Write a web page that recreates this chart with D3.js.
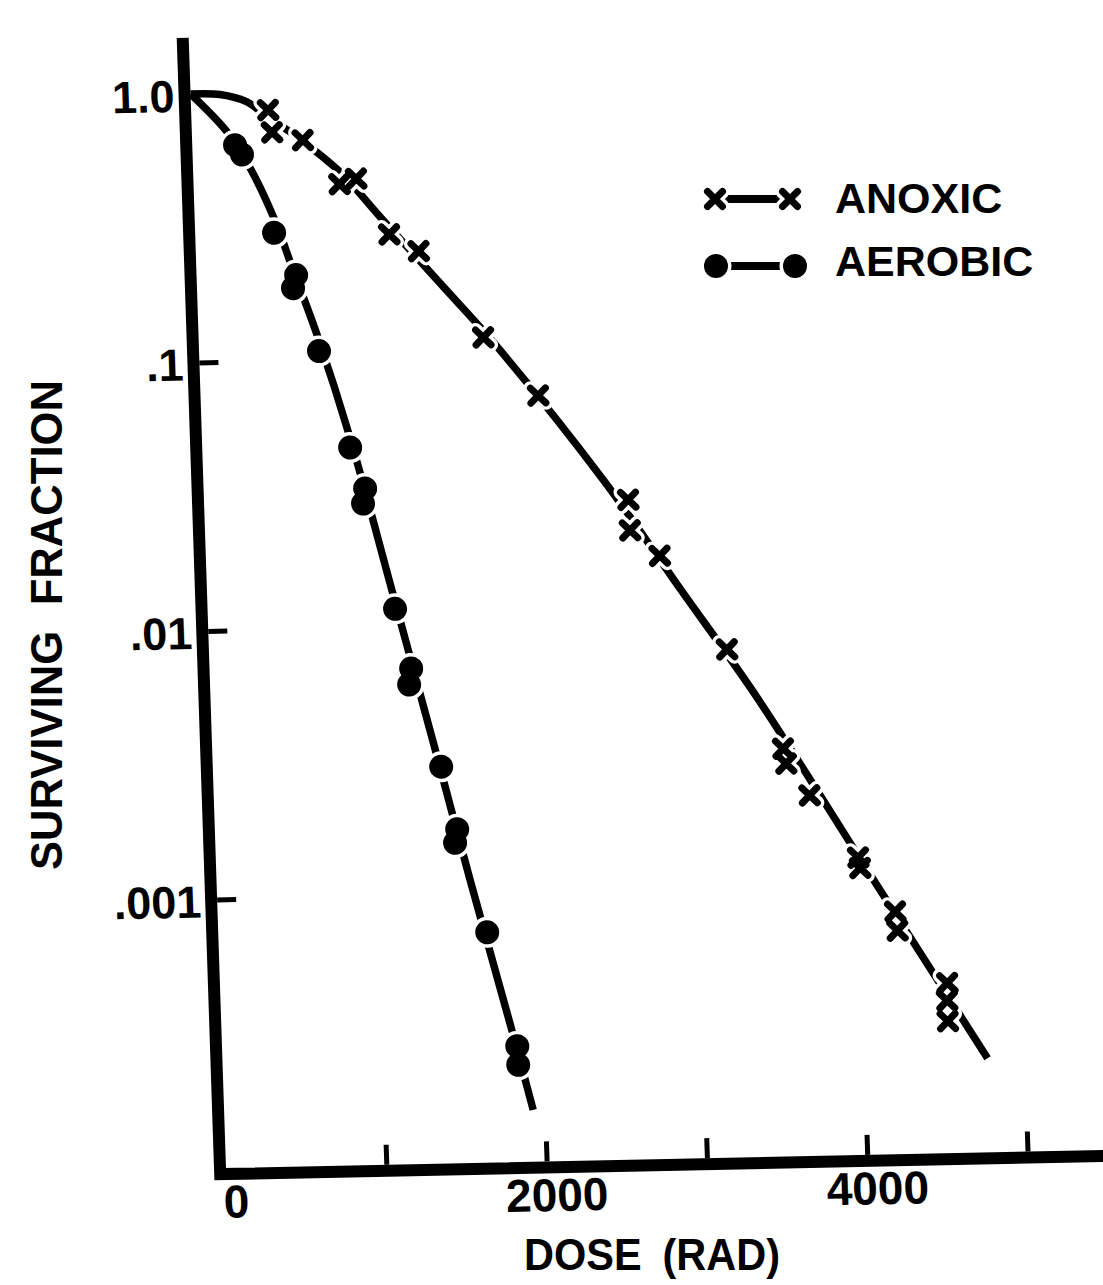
<!DOCTYPE html>
<html>
<head>
<meta charset="utf-8">
<script src="https://cdn.jsdelivr.net/npm/d3@7"></script>
<style>
  html, body { margin: 0; padding: 0; background: #fff; }
  svg { display: block; }
  text { font-family: "Liberation Sans", Arial, sans-serif; font-weight: bold; fill: #000; }
</style>
</head>
<body>
<svg id="chart" width="1103" height="1285"></svg>
<script>
// Cell survival after irradiation: measured points
const anoxicDose = [480, 500, 690, 910, 1015, 1210, 1390, 1775, 2105, 2645, 2650, 2830, 3230, 3560, 3575, 3715, 4005, 4015, 4225, 4235, 4535, 4530, 4530];
const anoxicSurvival = [0.86, 0.71, 0.66, 0.45, 0.47, 0.29, 0.25, 0.118, 0.071, 0.0286, 0.022, 0.0176, 0.0078, 0.0033, 0.0029, 0.0022, 0.00128, 0.00117, 0.0008, 0.00068, 0.00043, 0.00037, 0.00031];

const aerobicDose = [267, 308, 492, 621, 599, 748, 922, 1007, 991, 1169, 1257, 1241, 1424, 1511, 1495, 1677, 1841, 1843];
const aerobicSurvival = [0.64, 0.59, 0.30, 0.208, 0.186, 0.108, 0.047, 0.033, 0.029, 0.0117, 0.0070, 0.0061, 0.0030, 0.00175, 0.00156, 0.00072, 0.00027, 0.00023];

// Survival curves drawn through each set
const anoxicCurveDose = [0, 184, 350, 460, 655, 916, 1157, 1517, 1836, 2493, 2951, 3409, 4078, 4770];
const anoxicCurveSurvival = [1, 0.99, 0.925, 0.824, 0.679, 0.499, 0.337, 0.189, 0.113, 0.0341, 0.0132, 0.00512, 0.0011, 0.000224];
const aerobicCurveDose = [0, 220, 356, 501, 597, 745, 924, 1160, 1401, 1581, 1818, 1927];
const aerobicCurveSurvival = [1, 0.718, 0.525, 0.332, 0.223, 0.121, 0.051, 0.0132, 0.00327, 0.00113, 0.000297, 0.000156];

// Axes
const xTickValues = [1000, 2000, 3000, 4000, 5000];
const xLabelValues = [0, 2000, 4000];
const xLabels = ["0", "2000", "4000"];
const yTickValues = [0.1, 0.01, 0.001];
const yLabelValues = [1, 0.1, 0.01, 0.001];
const yLabels = ["1.0", ".1", ".01", ".001"];
const seriesNames = ["ANOXIC", "AEROBIC"];
const xTitle = "DOSE (RAD)";
const yTitle = "SURVIVING FRACTION";

const svg = d3.select("#chart");

// The hand-drawn frame leans slightly: the vertical axis tilts left going up,
// the horizontal axis rises going right.
const originX = 226, originY = 1168;
const leanX = 0.033, leanY = 0.0205;

const x = d3.scaleLinear().domain([0, 5000]).range([0, 801.5]);
const y = d3.scaleLog().domain([1e-4, 1]).range([0, -1074]);

const plot = svg.append("g")
  .attr("transform", `matrix(1,${-leanY},${leanX},1,${originX},${originY})`);

// Frame: thick vertical and horizontal axis strokes
const axisW = 12;
plot.append("path")
  .attr("d", `M${-axisW / 2},${y(1.62)} L${-axisW / 2},${axisW / 2} L${x(5750)},${axisW / 2}`)
  .attr("fill", "none")
  .attr("stroke", "#000")
  .attr("stroke-width", axisW)
  .attr("stroke-linejoin", "miter");

// x tick marks (pointing up into the plot)
const xTicks = plot.append("g")
  .call(d3.axisBottom(x).tickValues(xTickValues).tickSizeInner(-20).tickSizeOuter(0).tickFormat(""));
xTicks.select(".domain").remove();
xTicks.selectAll("line").attr("stroke", "#000").attr("stroke-width", 5);

// x tick labels
const xLab = plot.append("g")
  .attr("transform", `translate(0,${axisW / 2})`)
  .call(d3.axisBottom(x).tickValues(xLabelValues).tickSize(0).tickPadding(11)
    .tickFormat((d, i) => xLabels[i]));
xLab.select(".domain").remove();
xLab.selectAll("text")
  .attr("dx", 9)
  .style("font-size", "46px")
  .style("font-family", '"Liberation Sans", Arial, sans-serif')
  .style("font-weight", "bold")
  .attr("fill", "#000");

// y tick marks (pointing right)
const yTicks = plot.append("g")
  .call(d3.axisLeft(y).tickValues(yTickValues).tickSizeInner(-19).tickSizeOuter(0).tickFormat(""));
yTicks.select(".domain").remove();
yTicks.selectAll("line").attr("stroke", "#000").attr("stroke-width", 5);

// y tick labels
const yLab = plot.append("g")
  .call(d3.axisLeft(y).tickValues(yLabelValues).tickSize(0).tickPadding(16)
    .tickFormat((d, i) => yLabels[i]));
yLab.select(".domain").remove();
yLab.selectAll("text")
  .attr("dy", "0.38em")
  .style("font-size", "45px")
  .style("font-family", '"Liberation Sans", Arial, sans-serif')
  .style("font-weight", "bold")
  .attr("fill", "#000");

// Survival curves
const line = d3.line()
  .x(d => x(d[0]))
  .y(d => y(d[1]))
  .curve(d3.curveCatmullRom.alpha(0.5));

const curves = [
  d3.zip(anoxicCurveDose, anoxicCurveSurvival),
  d3.zip(aerobicCurveDose, aerobicCurveSurvival)
];
plot.selectAll("path.curve")
  .data(curves)
  .join("path")
  .attr("class", "curve")
  .attr("d", line)
  .attr("fill", "none")
  .attr("stroke", "#000")
  .attr("stroke-width", 7.5)
  .attr("stroke-linecap", "butt");

// Marker shapes
const crossSize = 7.5;
const crossW = 7;
const crossPath = `M${-crossSize},${-crossSize}L${crossSize},${crossSize}M${-crossSize},${crossSize}L${crossSize},${-crossSize}`;
const dotR = 12;
const halo = 3.5;

const anoxicPts = d3.zip(anoxicDose, anoxicSurvival);
const aerobicPts = d3.zip(aerobicDose, aerobicSurvival);

// White halos first, so the markers break the curve around them
plot.append("g").selectAll("path")
  .data(anoxicPts)
  .join("path")
  .attr("transform", d => `translate(${x(d[0])},${y(d[1])})`)
  .attr("d", crossPath)
  .attr("stroke", "#fff")
  .attr("stroke-width", crossW + 2 * halo)
  .attr("stroke-linecap", "round");
plot.append("g").selectAll("circle")
  .data(aerobicPts)
  .join("circle")
  .attr("cx", d => x(d[0]))
  .attr("cy", d => y(d[1]))
  .attr("r", dotR + halo)
  .attr("fill", "#fff");

// Markers
plot.append("g").selectAll("path")
  .data(anoxicPts)
  .join("path")
  .attr("transform", d => `translate(${x(d[0])},${y(d[1])})`)
  .attr("d", crossPath)
  .attr("stroke", "#000")
  .attr("stroke-width", crossW)
  .attr("stroke-linecap", "round");
plot.append("g").selectAll("circle")
  .data(aerobicPts)
  .join("circle")
  .attr("cx", d => x(d[0]))
  .attr("cy", d => y(d[1]))
  .attr("r", dotR)
  .attr("fill", "#000");

// Axis titles
svg.append("text")
  .attr("x", 652)
  .attr("y", 1270)
  .attr("text-anchor", "middle")
  .style("font-size", "44px")
  .style("word-spacing", "10px")
  .attr("textLength", 256)
  .attr("lengthAdjust", "spacingAndGlyphs")
  .text(xTitle);

svg.append("text")
  .attr("transform", "translate(62,625) rotate(-90)")
  .attr("text-anchor", "middle")
  .style("font-size", "45px")
  .style("word-spacing", "14px")
  .attr("textLength", 490)
  .attr("lengthAdjust", "spacingAndGlyphs")
  .text(yTitle);

// Legend
const legend = svg.append("g");
const legendRows = [
  { name: seriesNames[0], y: 199, kind: "cross", x1: 715, x2: 790, ty: 213 },
  { name: seriesNames[1], y: 266, kind: "dot", x1: 716, x2: 795, ty: 276 }
];
legendRows.forEach(r => {
  legend.append("line")
    .attr("x1", r.x1).attr("x2", r.x2)
    .attr("y1", r.y).attr("y2", r.y)
    .attr("stroke", "#000").attr("stroke-width", 8);
  [r.x1, r.x2].forEach(cx => {
    if (r.kind === "cross") {
      legend.append("path")
        .attr("transform", `translate(${cx},${r.y})`)
        .attr("d", crossPath)
        .attr("stroke", "#fff").attr("stroke-width", crossW + 2 * halo).attr("stroke-linecap", "round");
      legend.append("path")
        .attr("transform", `translate(${cx},${r.y})`)
        .attr("d", crossPath)
        .attr("stroke", "#000").attr("stroke-width", crossW).attr("stroke-linecap", "round");
    } else {
      legend.append("circle").attr("cx", cx).attr("cy", r.y).attr("r", dotR + halo).attr("fill", "#fff");
      legend.append("circle").attr("cx", cx).attr("cy", r.y).attr("r", dotR).attr("fill", "#000");
    }
  });
  legend.append("text")
    .attr("x", 835)
    .attr("y", r.ty)
    .style("font-size", "43px")
    .text(r.name);
});
</script>
</body>
</html>
